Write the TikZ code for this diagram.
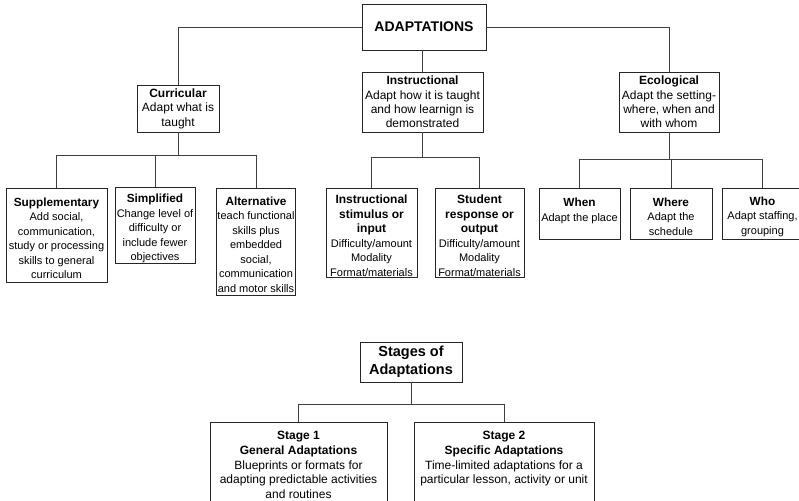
\documentclass[tikz,border=0pt]{standalone}
\usepackage{fontspec}
\setmainfont{Liberation Sans}
\newcommand{\bighd}[1]{{\fontsize{12}{14.5}\selectfont\bfseries #1}}
\newcommand{\smhd}[1]{{\fontsize{11.8}{14.5}\selectfont\bfseries #1}}
\newcommand{\topgap}{\rule{0pt}{15pt}}
\begin{document}
\begin{tikzpicture}[x=1pt,y=-1pt,
  box/.style={draw=black!85,line width=0.8pt,inner sep=0pt,align=center,text=black},
  conn/.style={draw=black!75,line width=0.8pt},
  lvtwo/.style={box,font=\fontsize{12}{14.4}\selectfont},
  lvthree/.style={box,font=\fontsize{11}{14.5}\selectfont},
  stg/.style={box,font=\fontsize{12}{14.8}\selectfont}]
\useasboundingbox (0,0) rectangle (799,500);
\fill[white] (0,0) rectangle (799,500);
\clip (0,0) rectangle (799,500);

% top node
\node[box,font=\fontsize{14}{16}\selectfont\bfseries,minimum width=124pt,minimum height=46pt] (adapt) at (424,27) {ADAPTATIONS};

% level two
\node[lvtwo,minimum width=82pt,minimum height=47pt] (curr) at (178,108.5) {\textbf{Curricular}\\Adapt what is\\taught};
\node[lvtwo,minimum width=121pt,minimum height=60pt] (instr) at (422.5,102) {\textbf{Instructional}\\Adapt how it is taught\\and how learnign is\\demonstrated};
\node[lvtwo,minimum width=100pt,minimum height=60pt] (eco) at (669,102) {\textbf{Ecological}\\Adapt the setting-\\where, when and\\with whom};

% level three
\node[lvthree,minimum width=101pt,minimum height=94pt] (supp) at (56.5,235) {\topgap\smhd{Supplementary}\\Add social,\\communication,\\study or processing\\skills to general\\curriculum};
\node[lvthree,minimum width=80pt,minimum height=75pt] (simp) at (155,225.5) {\topgap\smhd{Simplified}\\Change level of\\difficulty or\\include fewer\\objectives};
\node[lvthree,minimum width=79pt,minimum height=107pt] (alt) at (256,241.5) {\topgap\smhd{Alternative}\\teach functional\\skills plus\\embedded\\social,\\communication\\and motor skills};
\node[lvthree,minimum width=91pt,minimum height=89pt] (stim) at (371.5,232.5) {\topgap\bighd{Instructional}\\\bighd{stimulus or}\\\bighd{input}\\Difficulty/amount\\Modality\\Format/materials};
\node[lvthree,minimum width=89pt,minimum height=89pt] (resp) at (479.5,232.5) {\topgap\bighd{Student}\\\bighd{response or}\\\bighd{output}\\Difficulty/amount\\Modality\\Format/materials};
\node[lvthree,minimum width=81pt,minimum height=51pt] (when) at (579.5,213.5) {\topgap\smhd{When}\\Adapt the place\\\mbox{}};
\node[lvthree,minimum width=82pt,minimum height=51pt] (where) at (671,213.5) {\topgap\smhd{Where}\\Adapt the\\schedule};
\node[lvthree,minimum width=81pt,minimum height=51pt] (who) at (762.5,213.5) {\topgap\smhd{Who}\\Adapt staffing,\\grouping};

% stages
\node[box,font=\fontsize{14.5}{18}\selectfont\bfseries,minimum width=102pt,minimum height=40pt] (stages) at (411,362) {Stages of\\Adaptations};
\node[stg,minimum width=177pt,minimum height=86pt] (sone) at (298.5,465) {\textbf{Stage 1}\\\textbf{General Adaptations}\\Blueprints or formats for\\adapting predictable activities\\and routines};
\node[stg,minimum width=180pt,minimum height=86pt] (stwo) at (504,465) {\textbf{Stage 2}\\\textbf{Specific Adaptations}\\Time-limited adaptations for a\\particular lesson, activity or unit\\\mbox{}};

% bus coordinates
\coordinate (cb) at (0,155);
\coordinate (ib) at (0,157);
\coordinate (eb) at (0,159);
\coordinate (sb) at (0,404);

% connectors from top
\draw[conn] (adapt.west) -| (curr.north);
\draw[conn] (adapt.east) -| (eco.north);
\draw[conn] (instr.north |- adapt.south) -- (instr.north);

% curricular
\draw[conn] (curr.south) -- (curr.south |- cb);
\draw[conn] (supp.north) |- (alt.north |- cb) -- (alt.north);
\draw[conn] (simp.north) -- (simp.north |- cb);

% instructional
\draw[conn] (instr.south) -- (instr.south |- ib);
\draw[conn] (stim.north) |- (resp.north |- ib) -- (resp.north);

% ecological
\draw[conn] (eco.south) -- (eco.south |- eb);
\draw[conn] (when.north) |- (who.north |- eb) -- (who.north);
\draw[conn] (where.north) -- (where.north |- eb);

% stages
\draw[conn] (stages.south) -- (stages.south |- sb);
\draw[conn] (sone.north) |- (stwo.north |- sb) -- (stwo.north);
\end{tikzpicture}
\end{document}
